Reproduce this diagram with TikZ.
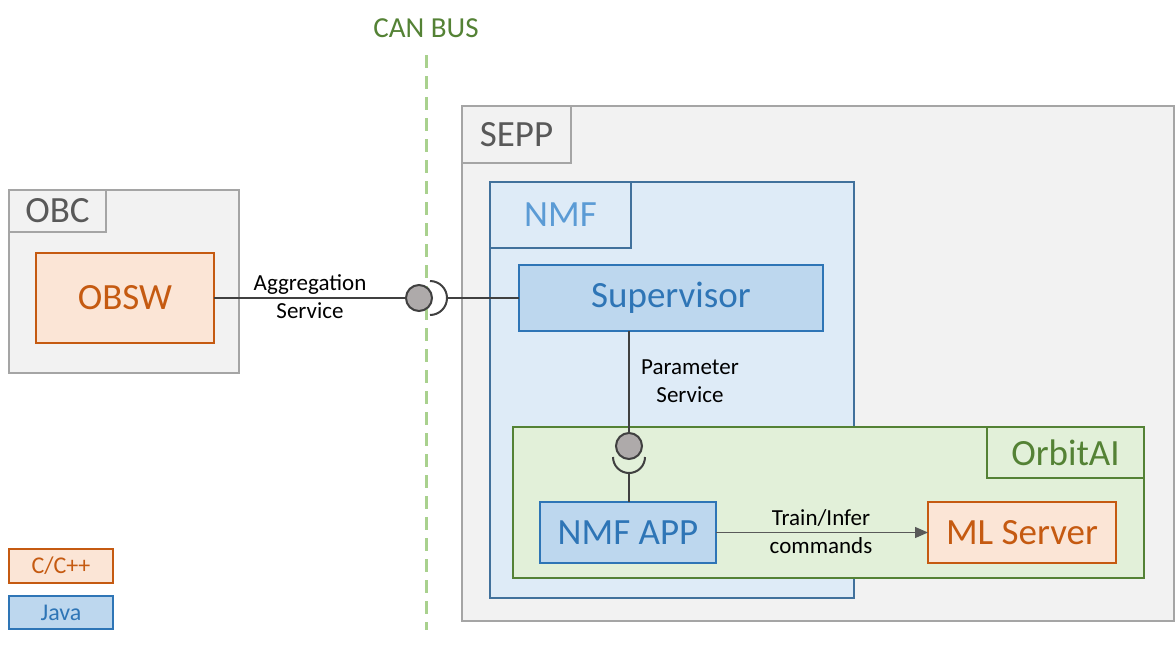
\documentclass[tikz,border=0pt]{standalone}
\usepackage{fontspec}
\setmainfont{Carlito}
\usetikzlibrary{arrows.meta}
\definecolor{boxgray}{HTML}{F2F2F2}
\definecolor{linegray}{HTML}{A5A5A5}
\definecolor{textgray}{HTML}{595959}
\definecolor{cfill}{HTML}{FBE5D6}
\definecolor{cline}{HTML}{C55A11}
\definecolor{nmffill}{HTML}{DEEBF7}
\definecolor{nmfline}{HTML}{41719C}
\definecolor{nmftext}{HTML}{5B9BD5}
\definecolor{jfill}{HTML}{BDD7EE}
\definecolor{jline}{HTML}{2E75B6}
\definecolor{aifill}{HTML}{E2F0D9}
\definecolor{ailine}{HTML}{548235}
\definecolor{busgreen}{HTML}{A9D18E}
\definecolor{wiredark}{HTML}{404040}
\definecolor{ballfill}{HTML}{AEAAAA}
\begin{document}
\begin{tikzpicture}[x=1pt,y=-1pt,
    box/.style = {rectangle,line width=2pt,outer sep=0pt,inner sep=0pt},
    hw/.style = {box,draw=linegray,fill=boxgray,text=textgray,font=\fontsize{37}{40}\selectfont},
    nmfbox/.style = {box,draw=nmfline,fill=nmffill,text=nmftext,font=\fontsize{37}{40}\selectfont},
    java/.style = {box,draw=jline,fill=jfill,text=jline,font=\fontsize{37}{40}\selectfont},
    cpp/.style = {box,draw=cline,fill=cfill,text=cline,font=\fontsize{37}{40}\selectfont},
    ai/.style = {box,draw=ailine,fill=aifill,text=ailine,font=\fontsize{37}{40}\selectfont},
    legend/.style = {font=\fontsize{24}{26}\selectfont},
    lbl/.style = {align=center,font=\fontsize{23}{28}\selectfont},
    ball/.style = {circle,draw=wiredark,fill=ballfill,line width=2pt,minimum size=26pt,inner sep=0pt},
    wire/.style = {draw=wiredark,line width=2pt},
    cmd/.style = {draw=textgray,line width=1.2pt,-{Triangle[length=13pt,width=11pt]}}]
\path[use as bounding box,fill=white] (0,0) rectangle (1176,646);

\node[text=ailine,font=\fontsize{29}{32}\selectfont] (canbus) at (426,28) {CAN BUS};
\coordinate (bustop) at (426,55);
\coordinate (busend) at (426,630);
\draw[busgreen,line width=3pt,dash pattern=on 13pt off 8pt] (bustop) -- (busend);

\node[hw,minimum width=230,minimum height=183] (obc) at (124,281.5) {};
\node[hw,minimum width=97,minimum height=42] (obctag) at (57.5,211) {OBC};
\node[cpp,minimum width=178,minimum height=90] (obsw) at (125,298) {OBSW};

\node[hw,minimum width=712,minimum height=515] (sepp) at (818,363.5) {};
\node[hw,minimum width=109,minimum height=57] (sepptag) at (516.5,134.5) {SEPP};
\node[nmfbox,minimum width=364,minimum height=416] (nmf) at (672,390) {};
\node[nmfbox,minimum width=141,minimum height=66] (nmftag) at (560.5,215) {NMF};
\node[java,minimum width=304,minimum height=66] (sup) at (671,298) {Supervisor};
\node[ai,minimum width=631,minimum height=151] (orbit) at (828.5,502.5) {};
\node[ai,minimum width=157,minimum height=51] (orbittag) at (1065.5,452.5) {OrbitAI};
\node[java,minimum width=176,minimum height=61] (app) at (628,532.5) {NMF APP};
\node[cpp,minimum width=188,minimum height=61] (ml) at (1022,532.5) {ML Server};

\node[cpp,legend,minimum width=104,minimum height=34] (leg1) at (61,566) {C/C++};
\node[java,legend,minimum width=104,minimum height=33] (leg2) at (61,612.5) {Java};

% aggregation service
\node[ball] (aggball) at (419,298) {};
\coordinate (aggsock) at (447,298);
\draw[wire] (obsw.east) -- (aggball.west);
\draw[wire] (430,281) arc (-90:90:17);
\draw[wire] (aggsock) -- (sup.west);
\node[lbl] (agglbl) at (310,297) {Aggregation\\Service};

% parameter service
\node[ball] (parball) at (629,446) {};
\coordinate (parsock) at (629,473);
\draw[wire] (parball |- sup.south) -- (parball.north);
\draw[wire] (613,457) arc (180:0:16);
\draw[wire] (parsock) -- (parsock |- app.north);
\node[lbl] (parlbl) at (690,381) {Parameter\\Service};

% commands
\draw[cmd] (app.east) -- (ml.west);
\node[lbl] (cmdlbl) at (821,532) {Train/Infer\\commands};
\end{tikzpicture}
\end{document}
